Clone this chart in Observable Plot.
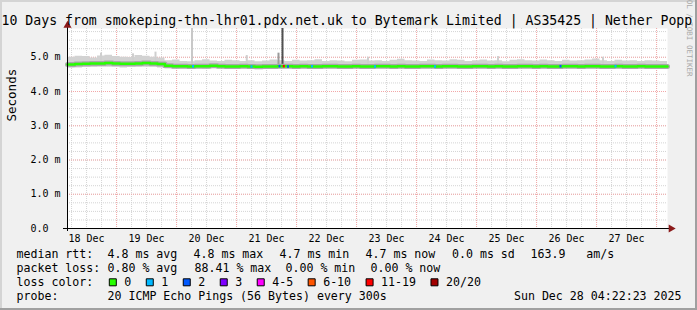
<!DOCTYPE html>
<html><head><meta charset="utf-8">
<script src="https://cdn.jsdelivr.net/npm/d3@7"></script>
<script src="https://cdn.jsdelivr.net/npm/@observablehq/plot@0.6"></script>
<style>
body{margin:0;background:#f0f0f0}
svg text{white-space:pre}
</style>
</head><body><div id="chart"></div>
<script>
// ---- data ----
const titleText = "10 Days from smokeping-thn-lhr01.pdx.net.uk to Bytemark Limited | AS35425 | Nether Popp";
const startTime = new Date(Date.UTC(2025, 11, 18, 4, 22, 23));
const endTime = new Date(Date.UTC(2025, 11, 28, 4, 22, 23));
const stepHours = 3;
// median rtt (ms), one value per 3 hours
const medianRtt = [
  4.79,4.80,4.81,4.82,4.82,4.83,4.82,4.81,4.81,4.82,4.83,4.82,4.80,
  4.75,4.74,4.74,4.73,4.74,4.74,4.75,4.74,4.73,4.73,
  4.74,4.73,4.72,4.73,4.73,4.74,4.74,4.73,4.74,4.73,
  4.73,4.74,4.74,4.73,4.73,4.74,4.73,4.73,4.74,4.74,
  4.73,4.74,4.73,4.73,4.74,4.74,4.73,4.74,4.74,4.73,
  4.73,4.74,4.74,4.73,4.74,4.73,4.73,4.74,4.74,4.73,
  4.74,4.73,4.73,4.74,4.74,4.73,4.74,4.74,4.73,4.73,
  4.74,4.73,4.73,4.74,4.73,4.73,4.73,4.73
];
// smoke: highest ping (ms)
const smokeMax = [
  5.00,5.03,5.02,4.98,5.04,5.06,5.02,5.00,4.99,5.05,5.03,5.00,4.98,
  4.90,4.92,4.88,4.87,4.90,4.93,4.89,4.88,4.91,4.90,
  4.88,4.90,4.87,4.89,4.92,4.90,4.88,4.91,4.89,4.90,
  4.93,4.88,4.90,4.89,4.87,4.91,4.92,4.89,4.90,4.88,
  4.91,4.94,4.90,4.89,4.88,4.92,4.90,4.89,4.93,4.91,
  4.88,4.90,4.92,4.89,4.90,4.87,4.91,4.93,4.90,4.89,
  4.92,4.90,4.88,4.91,4.89,4.90,4.92,4.95,4.90,4.88,
  4.91,4.89,4.90,4.88,4.90,4.89,4.88,4.87
];
// smoke: lowest ping (ms)
const smokeMin = [
  4.68,4.69,4.70,4.70,4.71,4.71,4.70,4.69,4.70,4.70,4.71,4.70,4.69,
  4.67,4.66,4.67,4.66,4.67,4.66,4.67,4.67,4.66,4.66,
  4.67,4.66,4.65,4.66,4.66,4.67,4.67,4.66,4.67,4.66,
  4.66,4.67,4.67,4.66,4.66,4.67,4.66,4.66,4.67,4.67,
  4.66,4.67,4.66,4.66,4.67,4.67,4.66,4.67,4.67,4.66,
  4.66,4.67,4.67,4.66,4.67,4.66,4.66,4.67,4.67,4.66,
  4.67,4.66,4.66,4.67,4.67,4.66,4.67,4.67,4.66,4.66,
  4.67,4.66,4.66,4.67,4.66,4.66,4.66,4.66
];
// isolated smoke spikes: hour offset, top (ms), shade
const spikeHour  = [13.2, 26.0, 35.0, 49.6, 71.5, 84.2, 85.8, 120.0, 172.0, 214.0];
const spikeTop   = [5.12, 5.10, 5.15, 6.50, 5.05, 5.12, 6.50, 5.00, 5.02, 5.00];
const spikeShade = ["#cfcfcf","#cfcfcf","#cfcfcf","#c8c8c8","#cfcfcf","#9a9a9a","#505050","#cfcfcf","#cfcfcf","#cfcfcf"];
// median segments with packet loss: hour offset, rtt, loss class
const lossHour = [50.0, 73.4, 84.6, 86.3, 88.0, 97.6, 122.8, 146.8, 197.0, 219.0];
const lossRtt  = [4.74, 4.73, 4.74, 4.74, 4.73, 4.74, 4.73, 4.73, 4.74, 4.74];
const lossClass = [1, 1, 2, 6, 2, 1, 1, 1, 2, 1];
// legend
const lossLabels = ["0", "1", "2", "3", "4-5", "6-10", "11-19", "20/20"];
const lossColors = ["#26ff00", "#00b8ff", "#0059ff", "#7e00ff", "#ff00ff", "#ff5500", "#ff0000", "#a10000"];
const yTicks = [0, 1, 2, 3, 4, 5];
const rttStats = ["4.8 ms avg", "4.8 ms max", "4.7 ms min", "4.7 ms now", "0.0 ms sd", "163.9   am/s"];
const lossStats = ["0.80 % avg", "88.41 % max", "0.00 % min", "0.00 % now"];
const rowLabels = ["median rtt:", "packet loss:", "loss color:", "probe:"];
const probeText = "20 ICMP Echo Pings (56 Bytes) every 300s";
const dateText = "Sun Dec 28 04:22:23 2025";
const watermark = "RRDTOOL / TOBI OETIKER";

// ---- build ----
const H_MS = 3600e3;
const at = h => new Date(startTime.getTime() + h * H_MS);
const series = medianRtt.map((v, i) => ({time: at(i * stepHours), rtt: v, lo: smokeMin[i], hi: smokeMax[i]}));
const spikes = spikeHour.map((h, i) => ({t1: at(h), t2: at(h + 0.8), top: spikeTop[i], shade: spikeShade[i], base: 4.74}));
const losses = lossHour.map((h, i) => ({t1: at(h), t2: at(h + 0.8), rtt: lossRtt[i], color: lossColors[lossClass[i]]}));

const W = 697, H = 310, ML = 67, MR = 30, MT = 28, MB = 82;
const MONO = "DejaVu Sans Mono";
const minorX = d3.utcHour.every(6).range(startTime, endTime);
const majorX = d3.utcDay.range(startTime, endTime);
const noonX = majorX.map(d => d3.utcHour.offset(d, -12)).concat([d3.utcHour.offset(majorX[majorX.length - 1], 12)]).filter(d => d > startTime && d < endTime);
const minorY = d3.range(0, 5.84, 0.25);

function txt(s, x, y, o = {}) {
  return Plot.text([s], {text: d => d, frameAnchor: "top-left", dx: x - ML, dy: y - MT,
    textAnchor: "start", lineAnchor: "middle", fontFamily: MONO, fontSize: 11.6, fill: "#000", ...o});
}

const legend = [];
const rowY = [253.6, 267.8, 281.8, 295.6];
rowLabels.forEach((s, i) => legend.push(txt(s, 16, rowY[i])));
const rttX = [107, 193, 279, 365, 451.5, 530];
rttStats.forEach((s, i) => legend.push(txt(s, rttX[i], rowY[0])));
const lossX = [107, 194, 285, 370];
lossStats.forEach((s, i) => legend.push(txt(s, lossX[i], rowY[1])));
let bx = 108.3;
lossLabels.forEach((s, i) => {
  legend.push(Plot.dot([0], {frameAnchor: "top-left", dx: bx + 4 - ML, dy: rowY[2] - MT, symbol: "square", r: 3.95,
    fill: lossColors[i], stroke: "#000", strokeWidth: 1}));
  legend.push(txt(s, bx + 15.5, rowY[2]));
  bx = bx + 15.5 + s.length * 6.98 + 14.5;
});
legend.push(txt(probeText, 107, rowY[3]));
legend.push(txt(dateText, 681, rowY[3], {textAnchor: "end"}));

const chart = Plot.plot({
  width: W, height: H, marginLeft: ML, marginRight: MR, marginTop: MT, marginBottom: MB,
  style: `background:#f0f0f0;font-family:${MONO};color:#000;overflow:visible;box-shadow:inset -2px -2px 0 #a0a0a0, inset 2px 2px 0 #d4d4d4;`,
  x: {type: "utc", domain: [startTime, endTime]},
  y: {domain: [0, 5.84]},
  marks: [
    Plot.frame({fill: "#ffffff", stroke: null}),
    Plot.gridX(minorX, {stroke: "#d4d4d4", strokeOpacity: 1, strokeDasharray: "1,1"}),
    Plot.gridY(minorY, {stroke: "#d4d4d4", strokeOpacity: 1, strokeDasharray: "1,1"}),
    Plot.gridX(majorX, {stroke: "#f2a8a8", strokeOpacity: 1, strokeDasharray: "1,1"}),
    Plot.gridY(yTicks, {stroke: "#f2a8a8", strokeOpacity: 1, strokeDasharray: "1,1"}),
    Plot.areaY(series, {x: "time", y1: "lo", y2: "hi", curve: "step-after", fill: "#d2d2d2"}),
    Plot.rect(spikes, {x1: "t1", x2: "t2", y1: "base", y2: "top", fill: "shade", clip: true}),
    Plot.line(series, {x: "time", y: "rtt", curve: "step-after", stroke: "#a8a8a8", strokeWidth: 5}),
    Plot.line(series, {x: "time", y: "rtt", curve: "step-after", stroke: "#26ff00", strokeWidth: 2.5}),
    Plot.ruleY(losses, {y: "rtt", x1: "t1", x2: "t2", stroke: "color", strokeWidth: 2.5}),
    Plot.ruleX([startTime], {stroke: "#000", insetTop: -6, insetBottom: -3}),
    Plot.ruleY([0], {stroke: "#000", insetLeft: -4, insetRight: -3}),
    Plot.dot([0], {frameAnchor: "top-left", dy: -3, symbol: "triangle", r: 3, fill: "#8b1a1a"}),
    Plot.dot([0], {frameAnchor: "bottom-right", dx: 3.5, symbol: "triangle", r: 3, fill: "#8b1a1a", rotate: 90}),
    Plot.axisX(noonX, {tickSize: 0, tickPadding: 6, tickFormat: d3.utcFormat("%d %b"), fontSize: 10, fontFamily: MONO, fill: "#000", label: null}),
    Plot.axisY(yTicks, {tickSize: 0, tickPadding: 0, textAnchor: "start", dx: -37, fontSize: 10, fontFamily: MONO, fill: "#000", label: null,
      tickFormat: d => d === 0 ? "0.0" : d.toFixed(1) + " m"}),
    Plot.text([watermark], {text: d => d, frameAnchor: "top-right", dx: 689 - (W - MR), dy: 76 - MT, rotate: 90, lineAnchor: "middle",
      fontFamily: MONO, fontSize: 7.5, fill: "#a8a8a8"}),
    txt(titleText, 1, 19.8, {fontSize: 13.2}),
    Plot.text(["Seconds"], {text: d => d, frameAnchor: "left", dx: 11.5 - ML, dy: 121 - 128, rotate: -90, lineAnchor: "middle",
      fontFamily: MONO, fontSize: 12.5, fill: "#000"}),
    ...legend
  ]
});
document.getElementById("chart").appendChild(chart);
</script>
</body></html>
